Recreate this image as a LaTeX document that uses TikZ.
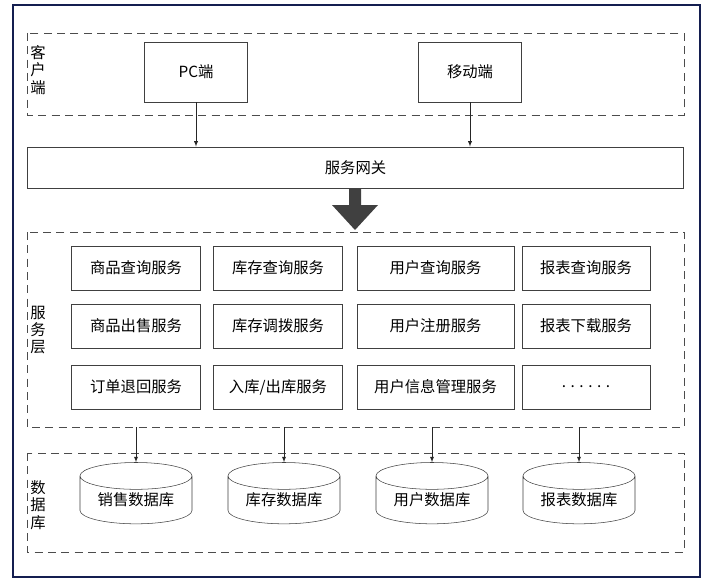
\documentclass[tikz,border=0pt]{standalone}
\usepackage{fontspec}
\setmainfont{Liberation Sans}
\newfontfamily\cjk{Noto Sans CJK SC}
\usetikzlibrary{shapes,arrows}

\begin{document}
\begin{tikzpicture}[x=0.75pt,y=-0.75pt,font=\cjk\fontsize{11.5}{13}\selectfont]
		\tikzstyle {layer} = [draw=black!70, dashed, dash pattern=on 6pt off 4pt]
		\tikzstyle {svc} = [draw=black!75, rectangle, minimum height=33pt, inner sep=0pt]
		\tikzstyle {db} = [draw=black!75, cylinder, shape border rotate=90, aspect=0.35, minimum width=84pt, minimum height=46pt, inner sep=0pt]
		\tikzstyle {link} = [-latex, black!85]

		\useasboundingbox (0,0) rectangle (704,585);
		\draw[fill=white, draw=none] (0,0) rectangle (704,585);
		\draw[draw={rgb,255:red,20;green,30;blue,80}, line width=0.8pt] (13,5) rectangle (700,577);

		% layers
		\draw[layer] (27,33) rectangle (684,115);
		\draw[layer] (27,232) rectangle (684,427);
		\draw[layer] (27,453) rectangle (684,552);
		\node[align=center, inner sep=0pt, font=\cjk\fontsize{11.5}{13}\selectfont] (lclient) at (38,70) {客\\户\\端};
		\node[align=center, inner sep=0pt, font=\cjk\fontsize{11.5}{13}\selectfont] (lsvc) at (38,330) {服\\务\\层};
		\node[align=center, inner sep=0pt, font=\cjk\fontsize{11.5}{13}\selectfont] (ldb) at (38,505) {数\\据\\库};

		% clients
		\node[svc, minimum width=77pt, minimum height=45pt] (pc) at (196,72) {PC端};
		\node[svc, minimum width=77pt, minimum height=45pt] (mobile) at (470,72) {移动端};
		\node[svc, minimum width=492pt, minimum height=31pt] (gateway) at (355.5,167.5) {服务网关};
		\draw[link] (pc) -- (pc |- gateway.north);
		\draw[link] (mobile) -- (mobile |- gateway.north);

		% big arrow
		\fill[black!75] (349,188) -- (361,188) -- (361,205) -- (378,205) -- (355,230) -- (332,205) -- (349,205) -- cycle;

		% services
		\node[svc, minimum width=97pt] (s11) at (136,268) {商品查询服务};
		\node[svc, minimum width=97pt] (s12) at (278,268) {库存查询服务};
		\node[svc, minimum width=118pt] (s13) at (435.5,268) {用户查询服务};
		\node[svc, minimum width=96pt] (s14) at (586,268) {报表查询服务};
		\node[svc, minimum width=97pt] (s21) at (136,326) {商品出售服务};
		\node[svc, minimum width=97pt] (s22) at (278,326) {库存调拨服务};
		\node[svc, minimum width=118pt] (s23) at (435.5,326) {用户注册服务};
		\node[svc, minimum width=96pt] (s24) at (586,326) {报表下载服务};
		\node[svc, minimum width=97pt] (s31) at (136,387) {订单退回服务};
		\node[svc, minimum width=97pt] (s32) at (278,387) {入库/出库服务};
		\node[svc, minimum width=118pt] (s33) at (435.5,387) {用户信息管理服务};
		\node[svc, minimum width=96pt] (s34) at (586,387) {. . . . . .};

		% databases
		\node[db] (db1) at (136,500) {销售数据库};
		\node[db] (db2) at (284,500) {库存数据库};
		\node[db] (db3) at (432,500) {用户数据库};
		\node[db] (db4) at (579,500) {报表数据库};
		\foreach \d in {db1, db2, db3, db4}
			\draw[link] (\d.top |- 0,427) -- (\d.top);
\end{tikzpicture}
\end{document}
